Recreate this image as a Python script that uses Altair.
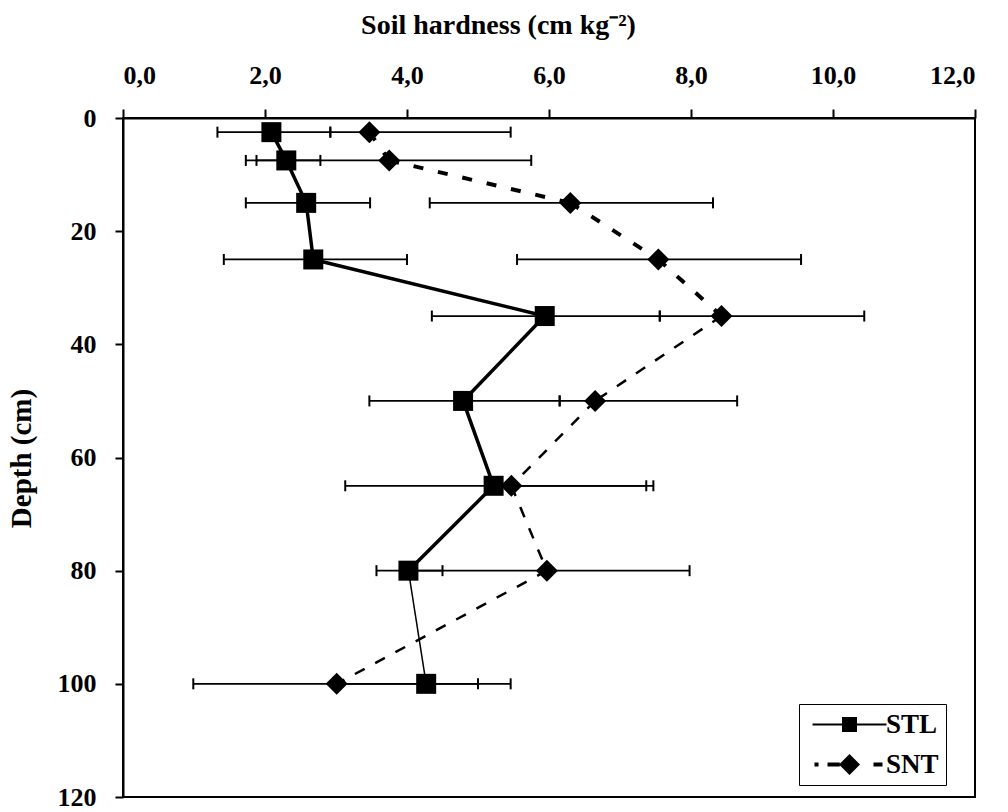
import altair as alt
import pandas as pd

# ---- data ----
DEPTH = [2.5, 7.5, 15, 25, 35, 50, 65, 80, 100]
STL = [2.09, 2.30, 2.58, 2.68, 5.94, 4.79, 5.22, 4.02, 4.27]
STL_LOW = [1.33, 1.88, 1.73, 1.42, 4.35, 3.47, 3.13, 3.57, 3.07]
STL_HIGH = [2.92, 2.78, 3.48, 4.00, 7.56, 6.15, 7.37, 4.50, 5.46]
SNT = [3.47, 3.75, 6.30, 7.54, 8.43, 6.65, 5.47, 5.97, 3.01]
SNT_LOW = [2.92, 1.73, 4.32, 5.55, 7.56, 6.15, 5.22, 3.97, 0.99]
SNT_HIGH = [5.46, 5.75, 8.31, 9.55, 10.44, 8.65, 7.47, 7.98, 5.00]
SERIES = ["STL", "SNT"]
X_TICKS = [0, 2, 4, 6, 8, 10, 12]
Y_TICKS = [0, 20, 40, 60, 80, 100, 120]

# ---- styles ----
STL_SEG_WIDTH = [3.5, 3.5, 3.5, 3.5, 3.5, 3.5, 3.5, 1.5]
SNT_SEG_GROUP = ["upper", "upper", "upper", "upper", "lower", "lower", "lower", "lower"]
FONT = "Liberation Serif"

pts = pd.DataFrame(
    {
        "series": ["STL"] * len(DEPTH) + ["SNT"] * len(DEPTH),
        "depth": DEPTH + DEPTH,
        "value": STL + SNT,
        "low": STL_LOW + SNT_LOW,
        "high": STL_HIGH + SNT_HIGH,
    }
)

caps = pd.DataFrame(
    {
        "depth": DEPTH * 4,
        "cap": STL_LOW + STL_HIGH + SNT_LOW + SNT_HIGH,
    }
)

seg_rows = []
for name, vals in (("STL", STL), ("SNT", SNT)):
    for i in range(len(DEPTH) - 1):
        seg_rows.append(
            {
                "series": name,
                "x": vals[i],
                "y": DEPTH[i],
                "x2": vals[i + 1],
                "y2": DEPTH[i + 1],
                "w": STL_SEG_WIDTH[i],
                "group": SNT_SEG_GROUP[i],
            }
        )
segs = pd.DataFrame(seg_rows)

x_scale = alt.Scale(domain=[0, 12], nice=False)
y_scale = alt.Scale(domain=[0, 120], reverse=True, nice=False)

x_axis = alt.Axis(
    orient="top",
    values=X_TICKS,
    labelExpr="replace(format(datum.value, '.1f'), '.', ',')",
    title="Soil hardness (cm kg\u207b\u00b2)",
    titleFont=FONT,
    titleFontSize=28,
    titleFontWeight="bold",
    titleX=375,
    titleY=-85,
    titleBaseline="alphabetic",
    labelFont=FONT,
    labelFontSize=26,
    labelFontWeight="bold",
    labelBaseline="alphabetic",
    labelPadding=26,
    tickSize=9,
    grid=False,
)
y_axis = alt.Axis(
    orient="left",
    values=Y_TICKS,
    title="Depth (cm)",
    titleFont=FONT,
    titleFontSize=29,
    titleFontWeight="bold",
    titleAngle=270,
    titleBaseline="middle",
    titleAlign="center",
    titleX=-102,
    titleY=340,
    labelFont=FONT,
    labelFontSize=26,
    labelFontWeight="bold",
    labelPadding=19,
    tickSize=8,
    grid=False,
)

X = lambda f: alt.X(f, type="quantitative", scale=x_scale, axis=x_axis)
Y = lambda f: alt.Y(f, type="quantitative", scale=y_scale, axis=y_axis)

err = alt.Chart(pts).mark_rule(color="black", strokeWidth=1.8).encode(
    x=X("low"), x2="high", y=Y("depth")
)
cap_marks = alt.Chart(caps).mark_tick(
    color="black", orient="vertical", size=11, thickness=2, opacity=1
).encode(x=X("cap"), y=Y("depth"))

stl_line = (
    alt.Chart(segs)
    .transform_filter(alt.datum.series == "STL")
    .mark_rule(color="black", strokeCap="round")
    .encode(x=X("x"), y=Y("y"), x2="x2", y2="y2", strokeWidth=alt.StrokeWidth("w:Q", scale=None))
)
snt_upper = (
    alt.Chart(segs)
    .transform_filter((alt.datum.series == "SNT") & (alt.datum.group == "upper"))
    .mark_rule(color="black", strokeWidth=4, strokeDash=[10, 15])
    .encode(x=X("x"), y=Y("y"), x2="x2", y2="y2")
)
snt_lower = (
    alt.Chart(segs)
    .transform_filter((alt.datum.series == "SNT") & (alt.datum.group == "lower"))
    .mark_rule(color="black", strokeWidth=2.5, strokeDash=[11, 12])
    .encode(x=X("x"), y=Y("y"), x2="x2", y2="y2")
)

points = alt.Chart(pts).mark_point(filled=True, opacity=1, color="black").encode(
    x=X("value"),
    y=Y("depth"),
    shape=alt.Shape("series:N", scale=alt.Scale(domain=SERIES, range=["square", "diamond"]), legend=None),
    size=alt.Size("series:N", scale=alt.Scale(domain=SERIES, range=[400, 484]), legend=None),
)

# legend-only layer (no marks drawn): symbols combine line style and marker
STL_SYM = "M-4.93,-0.14H4.93V0.14H-4.93Z M-1,-1H1V1H-1Z"
SNT_SYM = (
    "M-4.67,-0.27H-4.13V0.27H-4.67Z M-2.93,-0.27H-1.3V0.27H-2.93Z "
    "M-1.4,0L0,-1.4L1.4,0L0,1.4Z M3.2,-0.27H4.4V0.27H3.2Z"
)
legend = alt.Legend(
    title=None,
    orient="none",
    legendX=676,
    legendY=586,
    symbolSize=225,
    symbolOffset=30,
    labelOffset=23,
    padding=7,
    strokeColor="black",
    fillColor="white",
    labelFont=FONT,
    labelFontSize=27,
    labelFontWeight="bold",
    labelColor="black",
    labelLimit=200,
    rowPadding=12,
    symbolStrokeWidth=0,
    symbolFillColor="black",
    symbolOpacity=1,
)
legend_layer = (
    alt.Chart(pts)
    .transform_filter("false")
    .mark_point(filled=True, opacity=1, color="black")
    .encode(
        x=X("value"),
        y=Y("depth"),
        shape=alt.Shape("series:N", scale=alt.Scale(domain=SERIES, range=[STL_SYM, SNT_SYM]), legend=legend),
    )
)

chart = (
    alt.layer(err, cap_marks, stl_line, snt_upper, snt_lower, points, legend_layer)
    .resolve_scale(shape="independent", size="independent")
    .properties(
        width=852,
        height=679,
        autosize=alt.AutoSizeParams(type="none"),
        padding={"left": 123, "top": 118, "right": 33, "bottom": 15},
        background="white",
    )
    .configure_view(stroke="black", strokeWidth=2)
    .configure_axis(domainColor="black", domainWidth=2, tickColor="black", tickWidth=2, labelColor="black", titleColor="black")
)

chart.save("out.html", embed_options={"renderer": "svg", "actions": False})
